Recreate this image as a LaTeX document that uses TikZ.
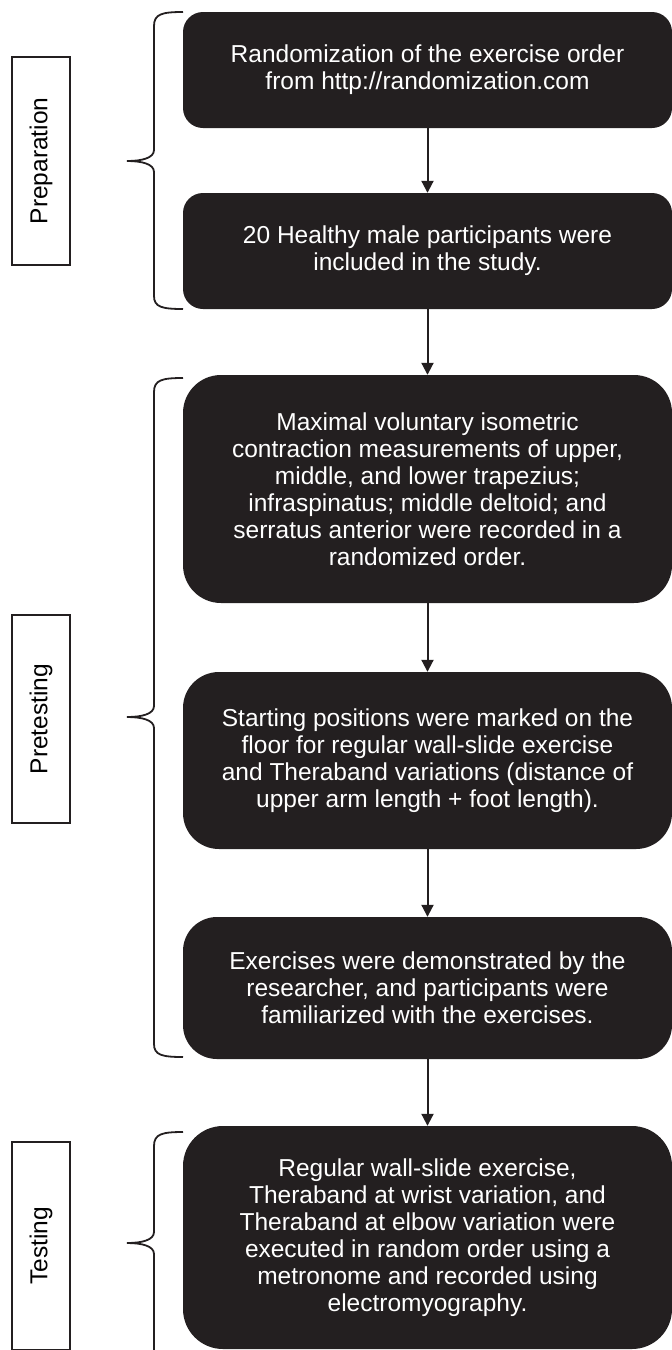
\documentclass[tikz,border=0pt]{standalone}
\usepackage{fontspec}
\setmainfont{Liberation Sans}
\usepackage{tikz}
\usetikzlibrary{arrows.meta}
\definecolor{boxblack}{HTML}{231F20}

\begin{document}
\begin{tikzpicture}[x=1pt, y=-1pt,
	stepbox/.style={fill=boxblack, text=white, align=center, inner sep=0pt,
		minimum width=489pt, font=\fontsize{24.5}{27}\selectfont},
	phase/.style={draw=boxblack, line width=1.8pt, rotate=90, inner sep=0pt,
		minimum width=208pt, minimum height=58pt, font=\fontsize{24.5}{27}\selectfont},
	flowarrow/.style={draw=boxblack, line width=2pt, -{Triangle[length=12pt,width=12pt]}},
	phasebrace/.style={draw=boxblack, line width=1.8pt}]
	\useasboundingbox (0,0) rectangle (672,1350);

	% Preparation
	\node[phase] (prep) at (41,161) {Preparation};
	\node[stepbox, rounded corners=20pt, minimum height=116pt] (b1) at (427.5,70)
		{Randomization of the exercise order\\from http://randomization.com};
	\node[stepbox, rounded corners=20pt, minimum height=116pt] (b2) at (427.5,251)
		{20 Healthy male participants were\\included in the study.};
	\draw[phasebrace] (183,12) .. controls (162,12) and (154,14) .. (154,26) -- (154,150)
		.. controls (154,158) and (142,161) .. (127,161)
		.. controls (142,161) and (154,164) .. (154,172) -- (154,296)
		.. controls (154,307) and (162,309) .. (183,309);

	% Pretesting
	\node[phase] (pretest) at (41,719) {Pretesting};
	\node[stepbox, rounded corners=38pt, minimum height=228pt] (b3) at (427.5,489)
		{Maximal voluntary isometric\\contraction measurements of upper,\\middle, and lower trapezius;\\infraspinatus; middle deltoid; and\\serratus anterior were recorded in a\\randomized order.};
	\node[stepbox, rounded corners=36pt, minimum height=177pt] (b4) at (427.5,760.5)
		{Starting positions were marked on the\\floor for regular wall-slide exercise\\and Theraband variations (distance of\\upper arm length + foot length).};
	\node[stepbox, rounded corners=34pt, minimum height=142pt] (b5) at (427.5,988)
		{Exercises were demonstrated by the\\researcher, and participants were\\familiarized with the exercises.};
	\draw[phasebrace] (183,378) .. controls (162,378) and (154,380) .. (154,392) -- (154,706)
		.. controls (154,714) and (142,717) .. (127,717)
		.. controls (142,717) and (154,720) .. (154,728) -- (154,1044)
		.. controls (154,1055) and (162,1057) .. (183,1057);

	% Testing
	\node[phase] (test) at (41,1246) {Testing};
	\node[stepbox, rounded corners=40pt, minimum height=223pt] (b6) at (427.5,1237.5)
		{Regular wall-slide exercise,\\Theraband at wrist variation, and\\Theraband at elbow variation were\\executed in random order using a\\metronome and recorded using\\electromyography.};
	\draw[phasebrace] (183,1132) .. controls (162,1132) and (154,1134) .. (154,1146) -- (154,1232)
		.. controls (154,1240) and (142,1243) .. (127,1243)
		.. controls (142,1243) and (154,1246) .. (154,1254) -- (154,1360);

	% arrows
	\draw[flowarrow] (b1.south) -- (b2.north);
	\draw[flowarrow] (b2.south) -- (b3.north);
	\draw[flowarrow] (b3.south) -- (b4.north);
	\draw[flowarrow] (b4.south) -- (b5.north);
	\draw[flowarrow] (b5.south) -- (b6.north);
\end{tikzpicture}
\end{document}
